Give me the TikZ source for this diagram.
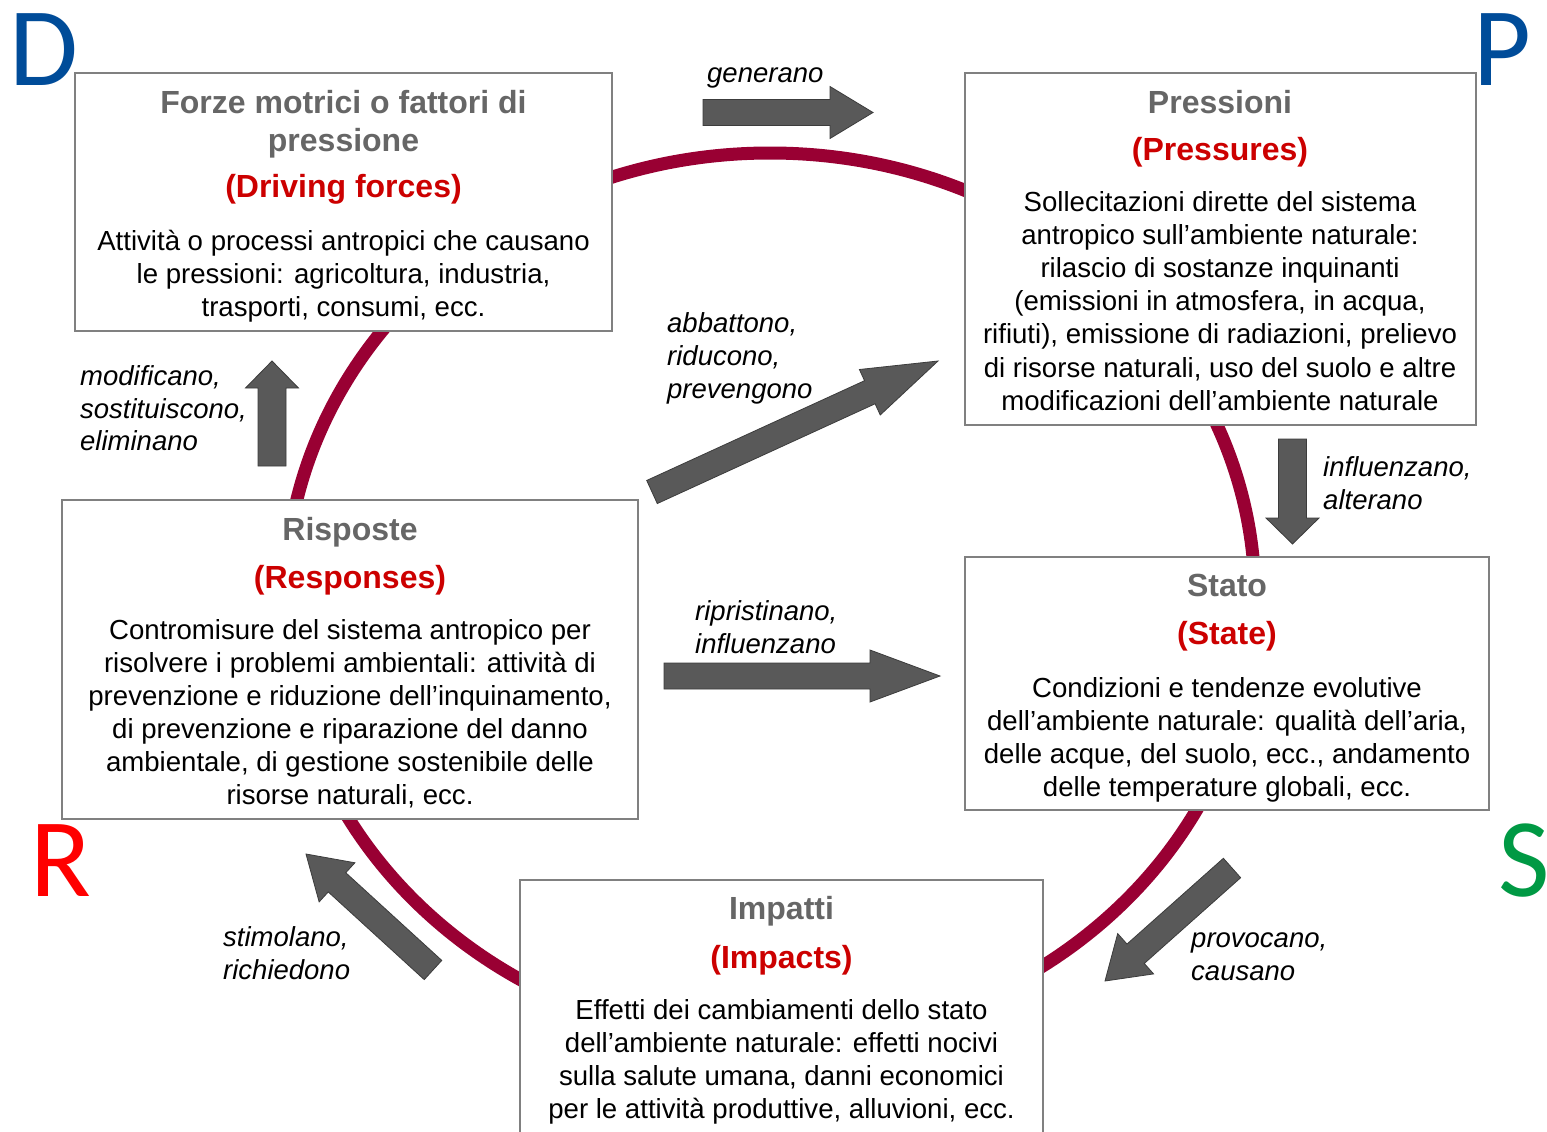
\documentclass[tikz,border=0pt]{standalone}
\usepackage{fontspec}
\setmainfont{Liberation Sans}
\newfontfamily\letterfont{Carlito}
\usetikzlibrary{calc}
\definecolor{ringred}{RGB}{153,0,51}
\definecolor{boxgray}{RGB}{128,128,128}
\definecolor{titlegray}{RGB}{102,102,102}
\definecolor{subred}{RGB}{204,0,0}
\definecolor{arrowgray}{RGB}{89,89,89}
\definecolor{arrowline}{RGB}{60,60,60}
\definecolor{dblue}{RGB}{0,76,153}
\definecolor{rred}{RGB}{255,0,0}
\definecolor{sgreen}{RGB}{0,153,68}
\newcommand\fatarrow[5]{%
  \coordinate (#1-n) at ($(#2)!#5!(#1)$);
  \path[fatarr] ($(#1)!#3!90:(#2)$) -- ($(#1-n)!#3!90:(#2)$) -- ($(#1-n)!#4!90:(#2)$) -- (#2)
    -- ($(#1-n)!#4!-90:(#2)$) -- ($(#1-n)!#3!-90:(#2)$) -- ($(#1)!#3!-90:(#2)$) -- cycle;}
\begin{document}
\begin{tikzpicture}[x=1pt,y=-1pt,
  box/.style={draw=boxgray, line width=1.5pt, fill=white, inner sep=0pt, outer sep=0pt, anchor=north west},
  ttl/.style={anchor=base, inner sep=0pt, text=titlegray, font=\fontsize{32}{38}\selectfont\bfseries},
  sub/.style={anchor=base, inner sep=0pt, text=subred, font=\fontsize{32}{38}\selectfont\bfseries},
  body/.style={anchor=base, inner sep=0pt, font=\fontsize{27.6}{33}\selectfont},
  lbl/.style={anchor=base west, inner sep=0pt, font=\fontsize{27.5}{33}\selectfont\itshape},
  big/.style={anchor=base west, inner sep=0pt, font=\letterfont\fontsize{112}{120}\selectfont},
  fatarr/.style={fill=arrowgray, draw=arrowline, line width=0.8pt, line join=miter}]
\useasboundingbox (0,0) rectangle (1547,1132);
\clip (0,0) rectangle (1547,1132);
\fill[white] (0,0) rectangle (1547,1132);
% cycle ring
\draw[ringred, line width=13pt] (770,598) ellipse [x radius=485pt, y radius=445pt];
% boxes
\node[box, minimum width=537pt, minimum height=258pt] (D) at (75,73) {};
\node[box, minimum width=511pt, minimum height=352pt] (P) at (965,73) {};
\node[box, minimum width=524pt, minimum height=253pt] (S) at (965,557) {};
\node[box, minimum width=523pt, minimum height=300pt] (I) at (520,880) {};
\node[box, minimum width=576pt, minimum height=319pt] (R) at (62,500) {};
% D texts
\node[ttl] (Dt1) at (343.5,113) {Forze motrici o fattori di};
\node[ttl] (Dt2) at (343.5,151) {pressione};
\node[sub] (Ds) at (343.5,197) {(Driving forces)};
\foreach \t [count=\i from 0] in {{Attività o processi antropici che causano},{le pressioni: agricoltura, industria,},{trasporti, consumi, ecc.}}
  \node[body] (Db\i) at (343.5,{250+33*\i}) {\t};
% P texts
\node[ttl] (Pt) at (1220,113) {Pressioni};
\node[sub] (Ps) at (1220,160) {(Pressures)};
\foreach \t [count=\i from 0] in {{Sollecitazioni dirette del sistema},{antropico sull’ambiente naturale:},{rilascio di sostanze inquinanti},{(emissioni in atmosfera, in acqua,},{rifiuti), emissione di radiazioni, prelievo},{di risorse naturali, uso del suolo e altre},{modificazioni dell’ambiente naturale}}
  \node[body] (Pb\i) at (1220,{211+33.2*\i}) {\t};
% S texts
\node[ttl] (St) at (1227,596) {Stato};
\node[sub] (Ss) at (1227,644) {(State)};
\foreach \t [count=\i from 0] in {{Condizioni e tendenze evolutive},{dell’ambiente naturale: qualità dell’aria,},{delle acque, del suolo, ecc., andamento},{delle temperature globali, ecc.}}
  \node[body] (Sb\i) at (1227,{697+33*\i}) {\t};
% I texts
\node[ttl] (It) at (781.5,919) {Impatti};
\node[sub] (Is) at (781.5,968) {(Impacts)};
\foreach \t [count=\i from 0] in {{Effetti dei cambiamenti dello stato},{dell’ambiente naturale: effetti nocivi},{sulla salute umana, danni economici},{per le attività produttive, alluvioni, ecc.}}
  \node[body] (Ib\i) at (781.5,{1019+33*\i}) {\t};
% R texts
\node[ttl] (Rt) at (350,540) {Risposte};
\node[sub] (Rs) at (350,588) {(Responses)};
\foreach \t [count=\i from 0] in {{Contromisure del sistema antropico per},{risolvere i problemi ambientali: attività di},{prevenzione e riduzione dell’inquinamento,},{di prevenzione e riparazione del danno},{ambientale, di gestione sostenibile delle},{risorse naturali, ecc.}}
  \node[body] (Rb\i) at (350,{639+33*\i}) {\t};
% arrows
\coordinate (genT) at (703,112.5); \coordinate (genH) at (873,112.5);
\coordinate (abbT) at (652,492);   \coordinate (abbH) at (938,361);
\coordinate (modT) at (272,466);   \coordinate (modH) at (272,361);
\coordinate (infT) at (1292.5,439);\coordinate (infH) at (1292.5,544);
\coordinate (ripT) at (664,676);   \coordinate (ripH) at (940,676);
\coordinate (proT) at (1232,868);  \coordinate (proH) at (1105,981);
\coordinate (stiT) at (433,970);   \coordinate (stiH) at (306,854);
\fatarrow{genT}{genH}{13pt}{26pt}{43pt}
\fatarrow{abbT}{abbH}{12.7pt}{25pt}{75pt}
\fatarrow{modT}{modH}{14pt}{26.5pt}{27pt}
\fatarrow{infT}{infH}{14pt}{26.5pt}{26pt}
\fatarrow{ripT}{ripH}{13pt}{26pt}{70pt}
\fatarrow{proT}{proH}{13pt}{27pt}{41pt}
\fatarrow{stiT}{stiH}{13pt}{26.5pt}{42pt}
% labels
\node[lbl] (Lgen) at (707,82) {generano};
\node[lbl] (Labb1) at (667,332) {abbattono,};
\node[lbl] (Labb2) at (667,365) {riducono,};
\node[lbl] (Labb3) at (667,398) {prevengono};
\node[lbl] (Lmod1) at (80,385) {modificano,};
\node[lbl] (Lmod2) at (80,418) {sostituiscono,};
\node[lbl] (Lmod3) at (80,450) {eliminano};
\node[lbl] (Linf1) at (1323,476) {influenzano,};
\node[lbl] (Linf2) at (1323,509) {alterano};
\node[lbl] (Lrip1) at (695,620) {ripristinano,};
\node[lbl] (Lrip2) at (695,653) {influenzano};
\node[lbl] (Lpro1) at (1191,947) {provocano,};
\node[lbl] (Lpro2) at (1191,980) {causano};
\node[lbl] (Lsti1) at (223,946) {stimolano,};
\node[lbl] (Lsti2) at (223,979) {richiedono};
% corner letters
\node[big, text=dblue] (LD) at (9,85) {D};
\node[big, text=dblue] (LP) at (1473,85) {P};
\node[big, text=rred] (LR) at (30,896) {R};
\node[big, text=sgreen] (LS) at (1498,896) {S};
\end{tikzpicture}
\end{document}
